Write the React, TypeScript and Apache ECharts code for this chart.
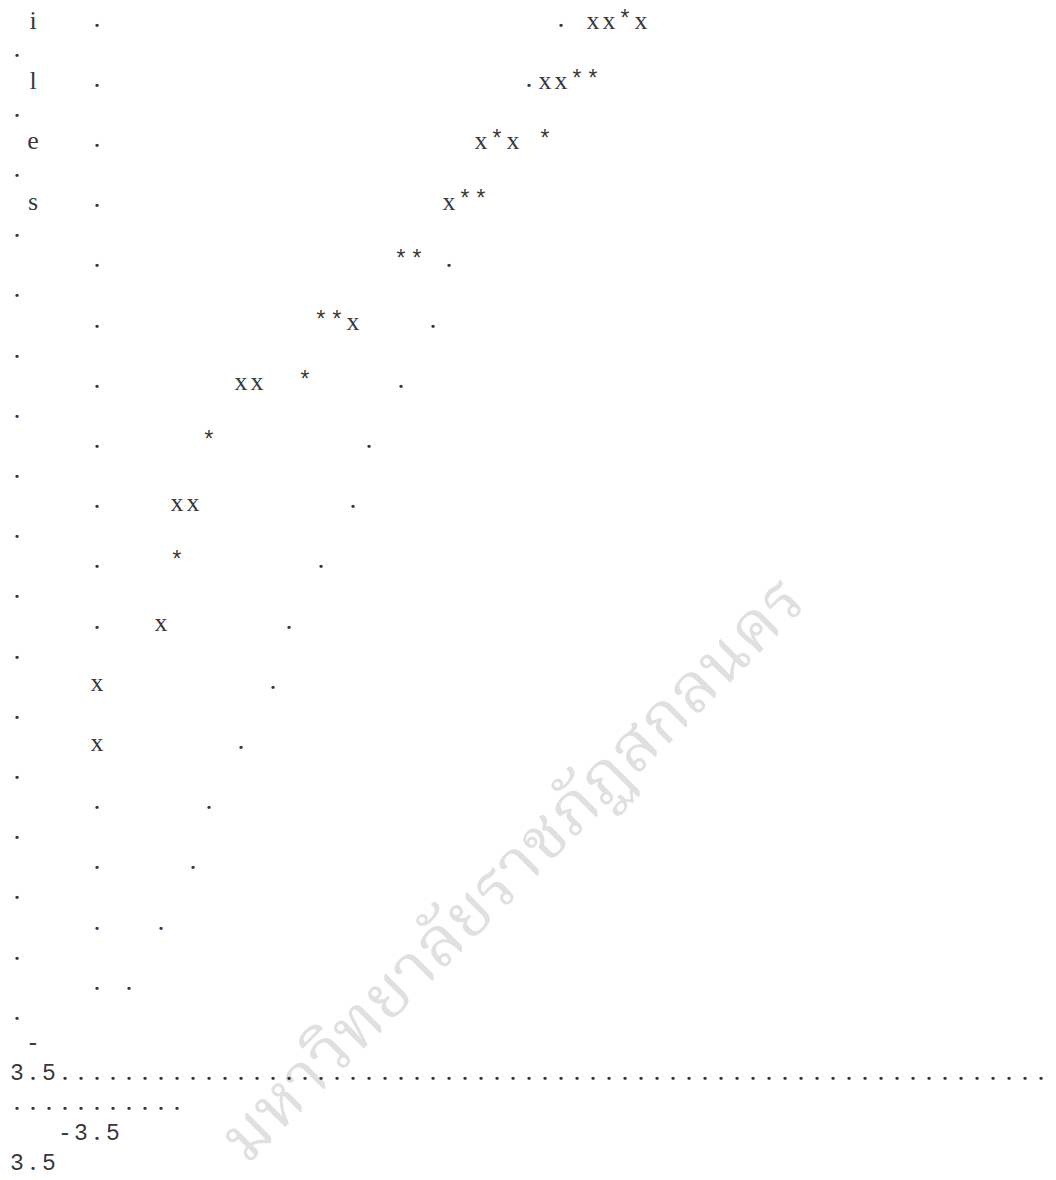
import React, { useEffect, useRef } from "react";
import * as echarts from "echarts";

// Character-grid plot (normal probability plot rendered as text)
// Each mark: [column, row]
const sideLetters: [number, number, string][] = [
  [1, 0, "i"],
  [1, 2, "l"],
  [1, 4, "e"],
  [1, 6, "s"],
];
const axisDotRows = [0, 2, 4, 6, 8, 10, 12, 14, 16, 18, 20, 26, 28, 30, 32];
const axisXRows = [22, 24];
const wrapDotRows = [1, 3, 5, 7, 9, 11, 13, 15, 17, 19, 21, 23, 25, 27, 29, 31, 33];
const refLineDots: [number, number][] = [
  [34, 0], [32, 2], [27, 8], [26, 10], [24, 12], [22, 14], [21, 16], [19, 18],
  [17, 20], [16, 22], [14, 24], [12, 26], [11, 28], [9, 30], [7, 32],
];
const xMarks: [number, number][] = [
  [36, 0], [37, 0], [39, 0], [33, 2], [34, 2], [29, 4], [31, 4], [27, 6],
  [21, 10], [14, 12], [15, 12], [10, 16], [11, 16], [9, 20],
];
const starMarks: [number, number][] = [
  [38, 0], [35, 2], [36, 2], [30, 4], [33, 4], [28, 6], [29, 6], [24, 8],
  [25, 8], [19, 10], [20, 10], [18, 12], [12, 14], [10, 18],
];
const tickLabels: [number, number, string][] = [
  [1, 34, "-"],
  [0, 35, "3.5"],
  [3, 37, "-3.5"],
  [0, 38, "3.5"],
];
const baselineRow = 35;
const baselineStartCol = 3;
const baselineEndCol = 64;
const wrapRow = 36;
const wrapEndCol = 10;
const watermark = "มหาวิทยาลัยราชภัฏสกลนคร";

const MONO = "'Liberation Mono', 'DejaVu Sans Mono', monospace";
const SERIF = "'Liberation Serif', 'DejaVu Serif', serif";

export default function App() {
  const ref = useRef<HTMLDivElement>(null);
  useEffect(() => {
    if (!ref.current) return;
    const chart = echarts.init(ref.current, undefined, { renderer: "svg" });

    const chars: any[] = [];
    sideLetters.forEach(([c, r, t]) => chars.push([c, r, t]));
    axisDotRows.forEach((r) => chars.push([5, r, "."]));
    axisXRows.forEach((r) => chars.push([5, r, "x"]));
    wrapDotRows.forEach((r) => chars.push([0, r, "."]));
    refLineDots.forEach(([c, r]) => chars.push([c, r, "."]));
    xMarks.forEach(([c, r]) => chars.push([c, r, "x"]));
    starMarks.forEach(([c, r]) => chars.push([c, r, "*"]));
    tickLabels.forEach(([c, r, t]) => {
      for (let i = 0; i < t.length; i++) chars.push([c + i, r, t[i]]);
    });
    for (let c = baselineStartCol; c <= baselineEndCol; c++) chars.push([c, baselineRow, "."]);
    for (let c = 0; c <= wrapEndCol; c++) chars.push([c, wrapRow, "."]);

    const isLetter = (t: string) => /[a-z]/.test(t);
    const dotChars = chars.filter((d) => d[2] === ".");
    const monoChars = chars.filter((d) => !isLetter(d[2]) && d[2] !== ".");
    const serifChars = chars.filter((d) => isLetter(d[2]));

    // pixel mapping: col c -> 17 + 16c, row n -> 20.5 + 30.1n (page coords)
    const colPx = 16;
    const rowPx = 30.1;
    const W = 1056;
    const H = 1180;
    const xMin = -17 / colPx;
    const yMin = -20.5 / rowPx;

    const mk = (data: any[], family: string, size: number, dy: number) => ({
      type: "scatter",
      silent: true,
      symbol: "circle",
      symbolSize: 1,
      itemStyle: { color: "rgba(0,0,0,0)" },
      data: data.map((d) => ({ value: d })),
      label: {
        show: true,
        position: "inside",
        offset: [0, dy],
        formatter: (p: any) => p.value[2],
        fontFamily: family,
        fontSize: size,
        lineHeight: 12,
        color: "#000",
      },
      z: 5,
    });

    chart.setOption({
      animation: false,
      grid: { left: 0, right: 0, top: 0, bottom: 0, containLabel: false },
      xAxis: { type: "value", min: xMin, max: xMin + W / colPx, show: false },
      yAxis: { type: "value", min: yMin, max: yMin + H / rowPx, inverse: true, show: false },
      graphic: [
        {
          type: "text",
          x: 515,
          y: 872,
          rotation: Math.PI / 4,
          z: -10,
          silent: true,
          style: {
            text: watermark,
            fontSize: 68,
            fontFamily:
              "'Noto Serif Thai', 'Noto Sans Thai Looped', 'Garuda', 'Loma', 'Norasi', 'Noto Sans Thai', sans-serif",
            fill: "#e0e0e0",
            textAlign: "center",
            textVerticalAlign: "middle",
          },
        },
      ],
      series: [
        mk(monoChars, MONO, 23, 0),
        mk(serifChars, SERIF, 26, 0),
        mk(dotChars, SERIF, 28, -3.5),
      ],
    });
    return () => chart.dispose();
  }, []);
  return (
    <div
      ref={ref}
      style={{ position: "absolute", left: 0, top: 0, width: 1056, height: 1180 }}
    />
  );
}
